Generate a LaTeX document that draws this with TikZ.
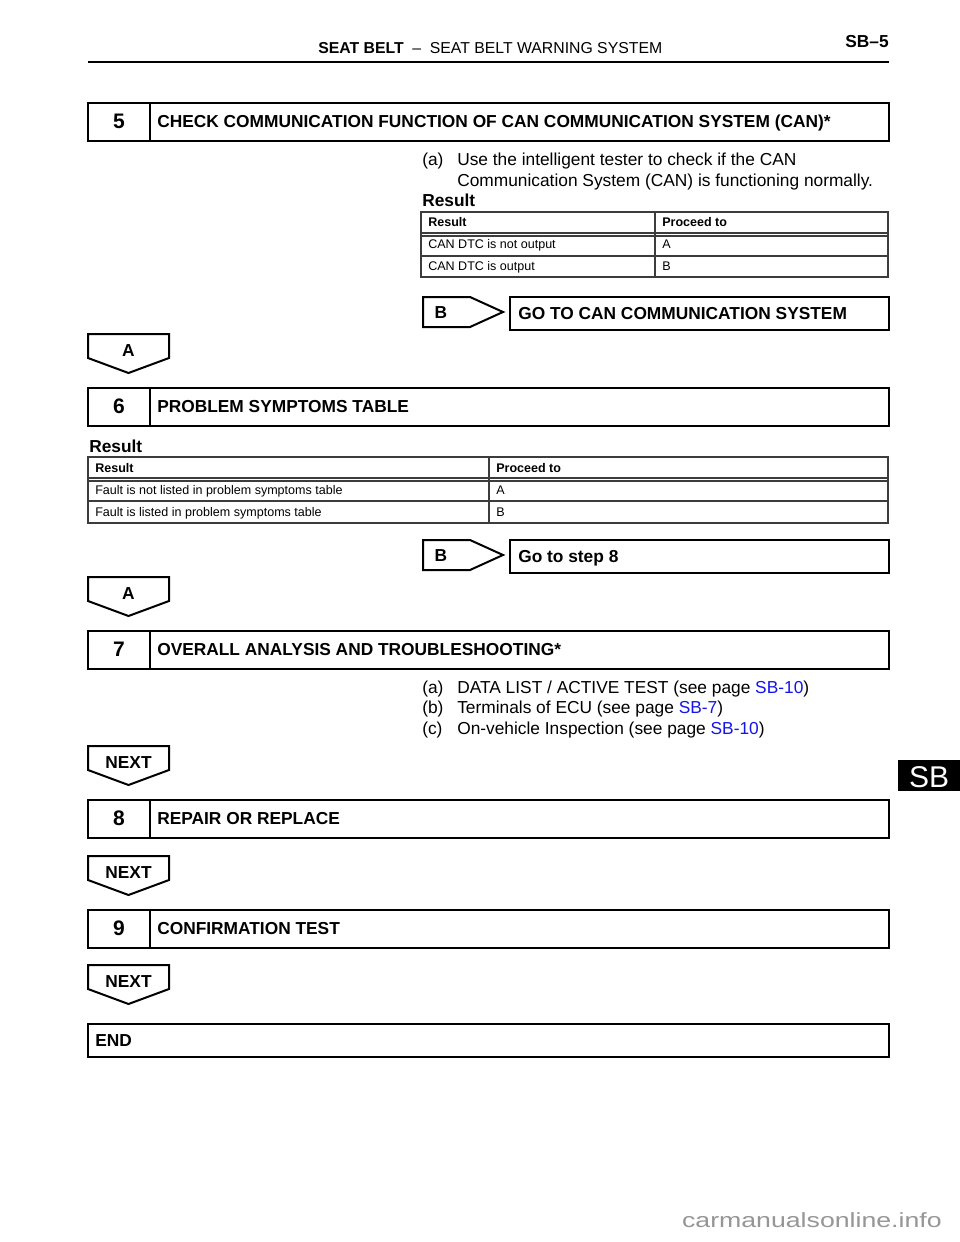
\documentclass[tikz,border=0pt]{standalone}
\usepackage{fontspec}
\usepackage{graphicx}
\setmainfont{Liberation Sans}
\definecolor{lnk}{RGB}{20,20,235}
\definecolor{tblline}{RGB}{60,60,60}
\definecolor{wmark}{RGB}{150,150,150}
\newcommand\fbody{\fontsize{13}{15}\selectfont}
\newcommand\ftbl{\fontsize{9.4}{11}\selectfont}
\newcommand\fhdr{\fontsize{11.85}{14}\selectfont}
\newcommand\fnum{\fontsize{15.75}{18}\selectfont}
\tikzset{
  boxline/.style={line width=1.5pt, draw=black},
  tline/.style={line width=0.8pt, draw=tblline},
  txt/.style={anchor=base west, inner sep=0pt, font=\fbody},
  btxt/.style={anchor=base west, inner sep=0pt, font=\fbody\bfseries},
  ctxt/.style={anchor=base, inner sep=0pt, font=\fbody\bfseries},
  tt/.style={anchor=base west, inner sep=0pt, font=\ftbl},
  tth/.style={anchor=base west, inner sep=0pt, font=\ftbl\bfseries},
  numtxt/.style={anchor=base, inner sep=0pt, font=\fnum\bfseries},
}
% step box: #1 top y, #2 number, #3 title, #4 name
\newcommand\stepbox[4]{%
  \draw[boxline] (88,#1) rectangle (889,#1+38);
  \draw[boxline] (150,#1) -- (150,#1+38);
  \node[numtxt] (#4n) at (119,#1+25.5) {#2};
  \node[btxt] (#4t) at (157,#1+24) {#3};}
% right pointing B jump: #1 top y, #2 text, #3 name
\newcommand\bjump[3]{%
  \draw[boxline] (423,#1) -- (470,#1) -- (503,#1+15) -- (470,#1+30) -- (423,#1+30) -- cycle;
  \node[ctxt] (#3l) at (441,#1+21) {B};
  \draw[boxline] (510,#1) rectangle (889,#1+33);
  \node[btxt] (#3t) at (518,#1+22) {#2};}
% down pentagon: #1 top y, #2 label, #3 name
\newcommand\downarrowbox[3]{%
  \draw[boxline] (88,#1) -- (169,#1) -- (169,#1+24) -- (128.5,#1+39) -- (88,#1+24) -- cycle;
  \node[ctxt] (#3) at (128.5,#1+22) {#2};}
\begin{document}
\begin{tikzpicture}[x=0.75pt,y=-0.75pt]
\useasboundingbox (0,0) rectangle (960,1242);
\fill[white] (0,0) rectangle (960,1242);
% header
\node[anchor=base west, inner sep=0pt, font=\fhdr] (hdr) at (318,53.6) {\textbf{SEAT BELT}\hspace{0.55em}–\hspace{0.55em}SEAT BELT WARNING SYSTEM};
\node[anchor=base east, inner sep=0pt, font=\fbody\bfseries] (pg) at (889,47) {SB–5};
\draw[line width=1.9pt] (88,62) -- (889,62);
% step 5
\stepbox{103}{5}{CHECK COMMUNICATION FUNCTION OF CAN COMMUNICATION SYSTEM (CAN)*}{s5}
\node[txt] (s5a) at (422,165) {(a)};
\node[txt] (s5a1) at (457,165) {Use the intelligent tester to check if the CAN};
\node[txt] (s5a2) at (457,186) {Communication System (CAN) is functioning normally.};
\node[btxt] (s5r) at (422,206) {Result};
% table 1
\draw[tline] (421,212) rectangle (888,277);
\draw[tline] (421,233) -- (888,233);
\draw[tline] (421,236) -- (888,236);
\draw[tline] (421,256) -- (888,256);
\draw[tline] (655,212) -- (655,277);
\node[tth] (t1h1) at (428,226.5) {Result};
\node[tth] (t1h2) at (662,226.5) {Proceed to};
\node[tt] (t1a1) at (428,248.5) {CAN DTC is not output};
\node[tt] (t1a2) at (662,248.5) {A};
\node[tt] (t1b1) at (428,270.5) {CAN DTC is output};
\node[tt] (t1b2) at (662,270.5) {B};
\bjump{297}{GO TO CAN COMMUNICATION SYSTEM}{j5}
\downarrowbox{334}{A}{a5}
% step 6
\stepbox{388}{6}{PROBLEM SYMPTOMS TABLE}{s6}
\node[btxt] (s6r) at (89,452) {Result};
\draw[tline] (88,457) rectangle (888,523);
\draw[tline] (88,478) -- (888,478);
\draw[tline] (88,481) -- (888,481);
\draw[tline] (88,501) -- (888,501);
\draw[tline] (489,457) -- (489,523);
\node[tth] (t2h1) at (95,472.5) {Result};
\node[tth] (t2h2) at (496,472.5) {Proceed to};
\node[tt] (t2a1) at (95,494.5) {Fault is not listed in problem symptoms table};
\node[tt] (t2a2) at (496,494.5) {A};
\node[tt] (t2b1) at (95,516.5) {Fault is listed in problem symptoms table};
\node[tt] (t2b2) at (496,516.5) {B};
\bjump{540}{Go to step 8}{j6}
\downarrowbox{577}{A}{a6}
% step 7
\stepbox{631}{7}{OVERALL ANALYSIS AND TROUBLESHOOTING*}{s7}
\node[txt] (s7a) at (422,693) {(a)};
\node[txt] (s7at) at (457,693) {DATA LIST / ACTIVE TEST (see page \textcolor{lnk}{SB-10})};
\node[txt] (s7b) at (422,713) {(b)};
\node[txt] (s7bt) at (457,713) {Terminals of ECU (see page \textcolor{lnk}{SB-7})};
\node[txt] (s7c) at (422,734) {(c)};
\node[txt] (s7ct) at (457,734) {On-vehicle Inspection (see page \textcolor{lnk}{SB-10})};
\downarrowbox{746}{NEXT}{n7}
% step 8
\stepbox{800}{8}{REPAIR OR REPLACE}{s8}
\downarrowbox{856}{NEXT}{n8}
% step 9
\stepbox{910}{9}{CONFIRMATION TEST}{s9}
\downarrowbox{965}{NEXT}{n9}
% end
\draw[boxline] (88,1024) rectangle (889,1057);
\node[btxt] (endt) at (95,1046) {END};
% side tab
\fill[black] (898,760) rectangle (960,791);
\node[anchor=base, inner sep=0pt, text=white, font=\fontsize{22.5}{26}\selectfont] (tab) at (929,787) {SB};
% watermark
\node[anchor=base east, inner sep=0pt, text=wmark, font=\fontsize{15.4}{18}\selectfont] (wm) at (942,1227) {\scalebox{1.3}[1]{carmanualsonline.info}};
\end{tikzpicture}
\end{document}
